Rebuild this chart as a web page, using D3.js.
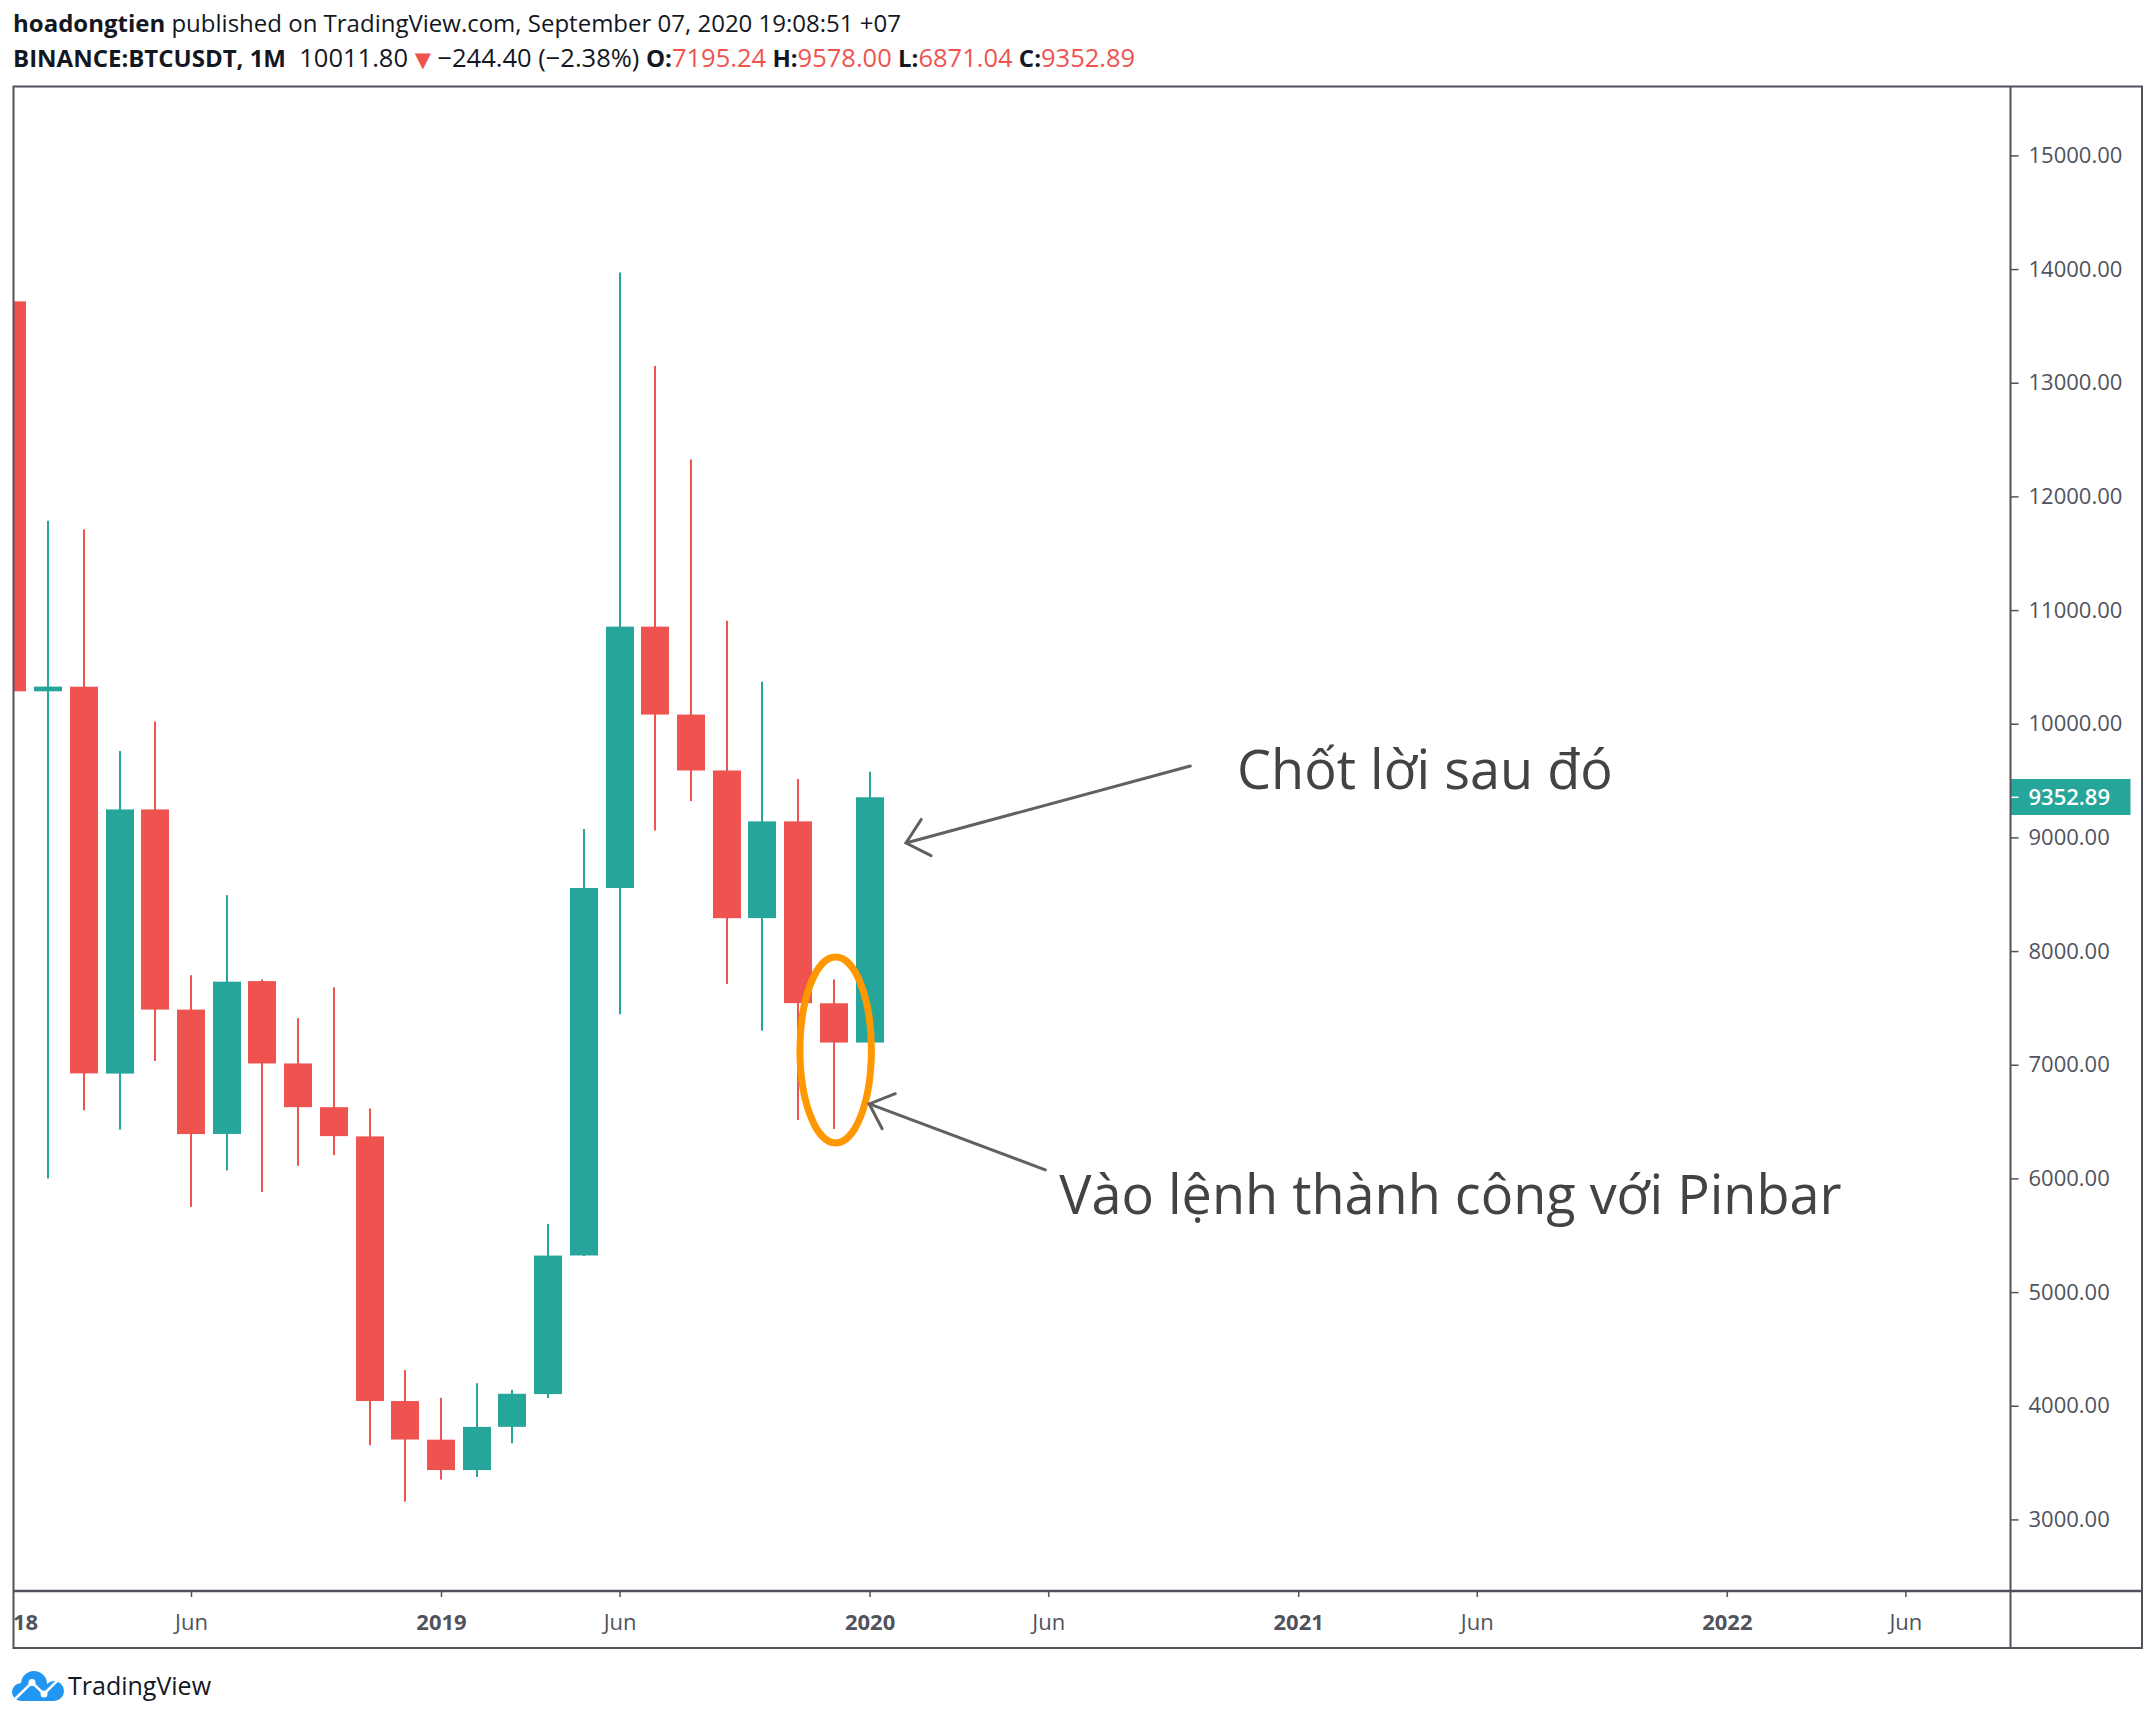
<!DOCTYPE html>
<html><head><meta charset="utf-8">
<script src="https://cdn.jsdelivr.net/npm/d3@7"></script>
<style>
html,body{margin:0;padding:0;background:#fff;}
svg{display:block;}
</style></head>
<body>
<svg id="chart" width="2156" height="1722"></svg>
<script>
// ---------- DATA ----------
const months = ["2018-01","2018-02","2018-03","2018-04","2018-05","2018-06","2018-07","2018-08","2018-09","2018-10","2018-11","2018-12",
                "2019-01","2019-02","2019-03","2019-04","2019-05","2019-06","2019-07","2019-08","2019-09","2019-10","2019-11","2019-12","2020-01"];
const openV  = [13715.65,10285.10,10325.64,6922.00,9246.01,7485.01,6391.08,7735.67,7011.21,6626.57,6369.52,4041.27,
                3701.23,3434.10,3814.26,4102.44,5321.94,8555.00,10854.10,10080.53,9588.74,8289.97,9140.86,7540.63,7195.24];
const highV  = [17176.24,11786.01,11710.00,9759.82,10020.00,7786.69,8491.77,7750.00,7410.00,7680.00,6615.15,4313.55,
                4069.80,4198.00,4140.00,5600.00,9074.26,13970.00,13147.08,12325.00,10905.87,10370.00,9513.00,7750.00,9578.00];
const lowV   = [9035.00,6000.01,6600.10,6430.00,7032.95,5750.00,6070.00,5880.00,6111.00,6205.00,3652.66,3156.26,
                3349.92,3373.10,3670.69,4067.00,5316.20,7444.58,9060.00,9320.00,7710.00,7300.00,6515.00,6435.00,6871.04];
const closeV = [10285.10,10326.76,6923.91,9246.01,7485.01,6390.07,7730.93,7011.21,6626.57,6371.93,4041.32,3702.90,
                3434.10,3813.69,4105.40,5320.81,8555.00,10854.10,10080.53,9588.74,8289.34,9140.85,7541.89,7195.23,9352.89];

const yTickValues = [3000,4000,5000,6000,7000,8000,9000,10000,11000,12000,13000,14000,15000];
const xTickIndex  = [0,5,12,17,24,29,36,41,48,53];
const xTickLabels = ["2018","Jun","2019","Jun","2020","Jun","2021","Jun","2022","Jun"];
const lastPrice = 9352.89;

const headerLine1 = [["hoadongtien","b"],[" published on TradingView.com, September 07, 2020 19:08:51 +07","n"]];
const headerLine2 = [["BINANCE:BTCUSDT, 1M","b"],["  10011.80 ","n2"],["\u25BC","tri"],[" \u2212244.40 (\u22122.38%) ","n2"],
                     ["O:","b"],["7195.24","r"],[" H:","b"],["9578.00","r"],[" L:","b"],["6871.04","r"],[" C:","b"],["9352.89","r"]];

// annotations (month index, price)
const noteTexts   = ["Chốt lời sau đó","Vào lệnh thành công với Pinbar"];
const noteAnchors = [[34.29,9430],[29.31,5688]];
const arrowTails  = [[32.98,9628],[28.92,6075]];
const arrowTips   = [[25.02,8951],[23.99,6655]];
const ellipseCenter = [23.05, 7130];
const ellipseRadius = [1.0, 818];

// ---------- LAYOUT ----------
const L = 13.5, T = 86.5, R = 2142, B = 1648, AX = 2010.5, TY = 1591;
const UP = "#26a69a", DOWN = "#ef5350", FRAME = "#50535e", TXT = "#131722", AXT = "#50535e";
const FONT = "'Open Sans', 'Noto Sans', sans-serif";

const svg = d3.select("#chart");
const x = d3.scaleLinear().domain([0, 12]).range([12.4, 441]);
const y = d3.scaleLinear().domain([3000, 15000]).range([1519.4, 155.4]);

svg.append("rect").attr("width",2156).attr("height",1722).attr("fill","#fff");

// header
function header(lines, yPos){
  const t = svg.append("text").attr("x", 13).attr("y", yPos)
    .attr("font-family", FONT).attr("font-size", 24).attr("fill", TXT)
    .attr("xml:space","preserve").style("white-space","pre");
  lines.forEach(([s, k]) => {
    const ts = t.append("tspan").text(s);
    if (k === "b") ts.attr("font-weight", 700);
    if (k === "n2") ts.attr("font-size", 25.5);
    if (k === "r") ts.attr("fill", DOWN).attr("font-size", 25.5);
    if (k === "tri") ts.attr("fill", DOWN).attr("font-family","'DejaVu Sans'").attr("font-size",21);
  });
}
header(headerLine1, 32);
header(headerLine2, 67);

// clip
const defs = svg.append("defs");
defs.append("clipPath").attr("id","plotClip").append("rect")
  .attr("x", L).attr("y", T).attr("width", AX - L).attr("height", TY - T);
defs.append("clipPath").attr("id","timeClip").append("rect")
  .attr("x", L).attr("y", 0).attr("width", AX - L).attr("height", B - TY);

const candles = months.map((m, i) => ({i, o: openV[i], h: highV[i], l: lowV[i], c: closeV[i]}));
const plot = svg.append("g").attr("clip-path","url(#plotClip)");
const cg = plot.selectAll("g.c").data(candles).join("g").attr("class","c");
cg.append("rect")
  .attr("x", d => Math.round(x(d.i)) - 1).attr("width", 2)
  .attr("y", d => y(d.h)).attr("height", d => y(d.l) - y(d.h))
  .attr("fill", d => d.c >= d.o ? UP : DOWN);
cg.append("rect")
  .attr("x", d => Math.round(x(d.i)) - 14).attr("width", 28)
  .attr("y", d => y(Math.max(d.o, d.c)))
  .attr("height", d => Math.max(1, Math.abs(y(d.o) - y(d.c))))
  .attr("fill", d => d.c >= d.o ? UP : DOWN);

// y axis
const yAxis = d3.axisRight(y).tickValues(yTickValues).tickFormat(d3.format(".2f")).tickSize(8).tickPadding(10);
const yg = svg.append("g").attr("transform", `translate(${AX},0)`).call(yAxis);
yg.select(".domain").remove();
yg.selectAll(".tick line").attr("stroke", FRAME).attr("stroke-width", 1.5);
yg.selectAll(".tick text").attr("fill", AXT).attr("font-family", FONT).attr("font-size", 22);

// last price label
const py = y(lastPrice);
svg.append("rect").attr("x", AX).attr("y", Math.round(py) - 18).attr("width", 120).attr("height", 36).attr("fill", UP);
svg.append("line").attr("x1", AX).attr("x2", AX + 8).attr("y1", py).attr("y2", py).attr("stroke", "#fff").attr("stroke-width", 1.5);
svg.append("text").attr("x", AX + 18).attr("y", py).attr("dy", "0.36em")
  .attr("font-family", FONT).attr("font-size", 22).attr("font-weight", 600).attr("fill", "#fff")
  .text(d3.format(".2f")(lastPrice));

// x axis
const xAxis = d3.axisBottom(x).tickValues(xTickIndex).tickFormat((d, i) => xTickLabels[i]).tickSize(6).tickPadding(17);
const xg = svg.append("g").attr("transform", `translate(0,${TY})`).attr("clip-path","url(#timeClip)").call(xAxis);
xg.select(".domain").remove();
xg.selectAll(".tick line").attr("stroke", FRAME).attr("stroke-width", 1.5);
xg.selectAll(".tick text").attr("fill", AXT).attr("font-family", FONT).attr("font-size", 22)
  .attr("font-weight", (d, i) => /^\d{4}$/.test(xTickLabels[i]) ? 700 : 400);

// frame
const fr = svg.append("g").attr("stroke", FRAME).attr("stroke-width", 2).attr("fill", "none");
fr.append("rect").attr("x", L).attr("y", T).attr("width", R - L).attr("height", B - T);
fr.append("line").attr("x1", AX).attr("x2", AX).attr("y1", T).attr("y2", B);
fr.append("line").attr("x1", L).attr("x2", R).attr("y1", TY).attr("y2", TY).attr("stroke-width", 2.5);

// ellipse
svg.append("ellipse")
  .attr("cx", x(ellipseCenter[0])).attr("cy", y(ellipseCenter[1]))
  .attr("rx", x(ellipseRadius[0]) - x(0)).attr("ry", y(0) - y(ellipseRadius[1]))
  .attr("fill", "none").attr("stroke", "#ff9800").attr("stroke-width", 7);

// arrows
const ag = svg.append("g").attr("stroke", "#616161").attr("stroke-width", 3).attr("fill", "none").attr("stroke-linecap","round");
arrowTips.forEach((tip, k) => {
  const tx = x(tip[0]), ty = y(tip[1]);
  const sx = x(arrowTails[k][0]), sy = y(arrowTails[k][1]);
  ag.append("line").attr("x1", sx).attr("y1", sy).attr("x2", tx).attr("y2", ty);
  const a = Math.atan2(sy - ty, sx - tx), h = 42 * Math.PI / 180, len = 28;
  ag.append("path").attr("d",
    `M${tx + len*Math.cos(a-h)},${ty + len*Math.sin(a-h)} L${tx},${ty} L${tx + len*Math.cos(a+h)},${ty + len*Math.sin(a+h)}`);
});

// notes
svg.selectAll("text.note").data(noteTexts).join("text").attr("class","note")
  .attr("x", (d, i) => x(noteAnchors[i][0])).attr("y", (d, i) => y(noteAnchors[i][1]))
  .attr("font-family", FONT).attr("font-size", 54).attr("fill", "#434343").text(d => d);

// logo
const lg = svg.append("g");
lg.append("circle").attr("cx", 21).attr("cy", 1692).attr("r", 9).attr("fill", "#2196f3");
lg.append("circle").attr("cx", 34).attr("cy", 1684).attr("r", 13).attr("fill", "#2196f3");
lg.append("circle").attr("cx", 54).attr("cy", 1691).attr("r", 10).attr("fill", "#2196f3");
lg.append("rect").attr("x", 21).attr("y", 1691).attr("width", 33).attr("height", 10).attr("fill", "#2196f3");
lg.append("path").attr("d", "M15,1699 L32,1682.5 L44,1694 L59,1679").attr("stroke", "#fff").attr("stroke-width", 2.5).attr("fill", "none");
lg.append("circle").attr("cx", 32).attr("cy", 1682.5).attr("r", 3.5).attr("fill", "#fff");
lg.append("circle").attr("cx", 44).attr("cy", 1694).attr("r", 3.5).attr("fill", "#fff");
svg.append("text").attr("x", 68).attr("y", 1695).attr("font-family", FONT).attr("font-size", 25).attr("fill", TXT).text("TradingView");
</script>
</body></html>
